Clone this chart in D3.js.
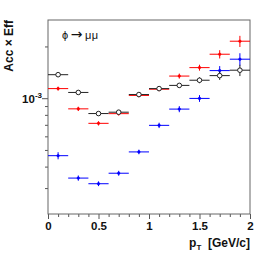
<!DOCTYPE html>
<html>
<head>
<meta charset="utf-8">
<script src="https://cdn.jsdelivr.net/npm/d3@7"></script>
<style>
  body { margin: 0; background: #fff; }
  svg { display: block; }
  text { font-family: "Liberation Sans", Arial, sans-serif; }
</style>
</head>
<body>
<div id="chart"></div>
<script>
// pT bins (GeV/c), width 0.2
const binCenters = [0.1, 0.3, 0.5, 0.7, 0.9, 1.1, 1.3, 1.5, 1.7, 1.9];
const binHalfWidth = 0.1;

// Acc x Eff values (units of 1e-3)
const blackVals = [1.37, 1.08, 0.814, 0.829, 1.05, 1.137, 1.187, 1.272, 1.353, 1.455];
const blackErrs = [0.03, 0.025, 0.02, 0.02, 0.025, 0.03, 0.035, 0.05, 0.075, 0.11];
const redVals   = [1.137, 0.867, 0.714, 0.813, 1.038, 1.128, 1.345, 1.506, 1.802, 2.145];
const redErrs   = [0.03, 0.025, 0.02, 0.02, 0.025, 0.03, 0.045, 0.06, 0.1, 0.16];
const blueVals  = [0.463, 0.343, 0.318, 0.366, 0.487, 0.695, 0.864, 0.997, 1.447, 1.686];
const blueErrs  = [0.022, 0.012, 0.01, 0.012, 0.015, 0.025, 0.035, 0.045, 0.09, 0.14];

const xTickLabels = ["0", "0.5", "1", "1.5", "2"];

const W = 266, H = 255;
const frame = {left: 48, right: 250, top: 20, bottom: 214};

const svg = d3.select("#chart").append("svg")
  .attr("width", W)
  .attr("height", H)
  .attr("style", "background-color: white");

const x = d3.scaleLinear().domain([0, 2]).range([frame.left, frame.right]);
const y = d3.scaleLog().domain([2.12e-4, 2.85e-3]).range([frame.bottom, frame.top]);

// x axis: major + minor ticks, outward
const xMajor = xTickLabels.map(d => +d);
const xMinor = d3.range(0, 21).map(i => i / 10).filter(v => !xMajor.some(m => Math.abs(m - v) < 1e-9));

svg.append("g")
  .attr("transform", `translate(0, ${frame.bottom})`)
  .call(d3.axisBottom(x).tickValues(xMinor).tickSize(3).tickFormat(() => ""))
  .call(g => g.select(".domain").remove())
  .call(g => g.selectAll("line").attr("stroke", "#555"));

svg.append("g")
  .attr("transform", `translate(0, ${frame.bottom})`)
  .call(d3.axisBottom(x).tickValues(xMajor).tickSize(5).tickPadding(3)
    .tickFormat((d, i) => xTickLabels[i]))
  .call(g => g.select(".domain").remove())
  .call(g => g.selectAll("line").attr("stroke", "#555"))
  .call(g => g.selectAll("text")
    .attr("font-size", 11.5)
    .attr("font-weight", "bold")
    .attr("fill", "#111")
    .attr("font-family", "Liberation Sans, Arial, sans-serif"));

// y axis (log): major at 1e-3, minor at 3..9e-4 and 2e-3
const yMinor = [3e-4, 4e-4, 5e-4, 6e-4, 7e-4, 8e-4, 9e-4, 2e-3];
svg.append("g")
  .attr("transform", `translate(${frame.left}, 0)`)
  .call(d3.axisLeft(y).tickValues(yMinor).tickSize(3).tickFormat(() => ""))
  .call(g => g.select(".domain").remove())
  .call(g => g.selectAll("line").attr("stroke", "#555"));

svg.append("g")
  .attr("transform", `translate(${frame.left}, 0)`)
  .call(d3.axisLeft(y).tickValues([1e-3]).tickSize(6).tickFormat(() => ""))
  .call(g => g.select(".domain").remove())
  .call(g => g.selectAll("line").attr("stroke", "#555"));

// 10^-3 label
const ylab = svg.append("text")
  .attr("x", 42)
  .attr("y", y(1e-3) + 4.5)
  .attr("text-anchor", "end")
  .attr("font-weight", "bold")
  .attr("fill", "#111");
ylab.append("tspan").attr("font-size", 11.5).text("10");
ylab.append("tspan").attr("font-size", 8).attr("dy", -5).text("-3");

// frame
svg.append("rect")
  .attr("x", frame.left)
  .attr("y", frame.top)
  .attr("width", frame.right - frame.left)
  .attr("height", frame.bottom - frame.top)
  .attr("fill", "none")
  .attr("stroke", "#666")
  .attr("stroke-width", 1);

// series
const series = [
  {vals: blueVals, errs: blueErrs, color: "#0000ff", open: false},
  {vals: redVals, errs: redErrs, color: "#ff0000", open: false},
  {vals: blackVals, errs: blackErrs, color: "#222", open: true}
];

series.forEach(s => {
  const pts = binCenters.map((c, i) => ({c: c, v: s.vals[i] * 1e-3, e: s.errs[i] * 1e-3}));
  const g = svg.append("g");
  g.selectAll("line.h").data(pts).join("line")
    .attr("x1", d => x(d.c - binHalfWidth))
    .attr("x2", d => x(d.c + binHalfWidth))
    .attr("y1", d => y(d.v))
    .attr("y2", d => y(d.v))
    .attr("stroke", s.color)
    .attr("stroke-width", 1);
  g.selectAll("line.v").data(pts).join("line")
    .attr("x1", d => x(d.c))
    .attr("x2", d => x(d.c))
    .attr("y1", d => y(d.v - d.e))
    .attr("y2", d => y(d.v + d.e))
    .attr("stroke", s.color)
    .attr("stroke-width", 1);
  g.selectAll("circle").data(pts).join("circle")
    .attr("cx", d => x(d.c))
    .attr("cy", d => y(d.v))
    .attr("r", s.open ? 2.3 : 1.3)
    .attr("fill", s.open ? "white" : s.color)
    .attr("stroke", s.color)
    .attr("stroke-width", s.open ? 1 : 0.5);
});

// legend text
const leg = svg.append("text")
  .attr("x", 62)
  .attr("y", 39)
  .attr("fill", "#111")
  .attr("font-family", "DejaVu Serif, serif")
  .attr("font-size", 11);
leg.append("tspan").attr("font-weight", "normal").text("\u03d5");
leg.append("tspan").attr("dx", 2.5).attr("font-family", "DejaVu Sans, sans-serif")
  .attr("font-size", 14).text("\u2192");
leg.append("tspan").attr("dx", 2.5).attr("letter-spacing", 0.5).text("\u03bc\u03bc");

// axis titles
const xt = svg.append("text")
  .attr("x", frame.right)
  .attr("y", 247)
  .attr("text-anchor", "end")
  .attr("font-weight", "bold")
  .attr("font-size", 12)
  .attr("fill", "#111")
  .attr("xml:space", "preserve");
xt.append("tspan").text("p");
xt.append("tspan").attr("font-size", 8).attr("dy", 3).text("T");
xt.append("tspan").attr("dy", -3).text("\u00a0\u00a0[GeV/c]");

svg.append("text")
  .attr("transform", `translate(13, ${frame.top}) rotate(-90)`)
  .attr("text-anchor", "end")
  .attr("font-weight", "bold")
  .attr("font-size", 12)
  .attr("fill", "#111")
  .text("Acc \u00d7 Eff");
</script>
</body>
</html>
